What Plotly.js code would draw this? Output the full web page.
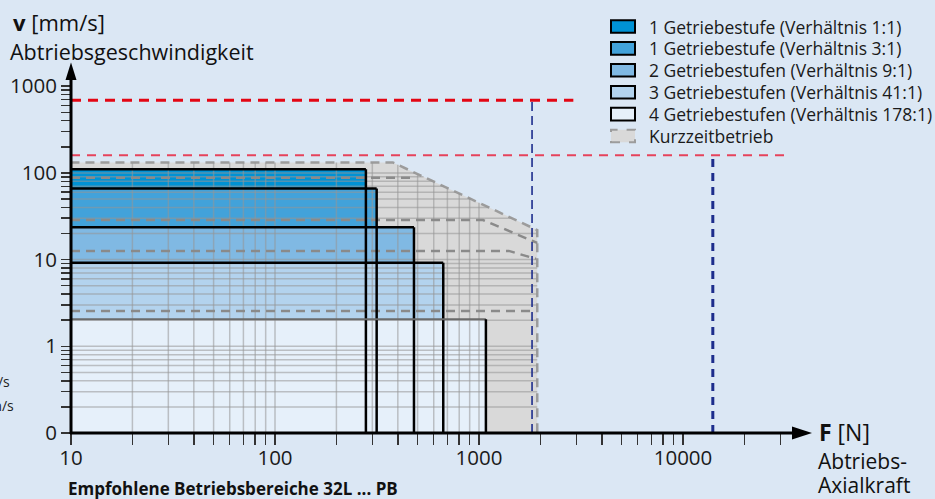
<!DOCTYPE html>
<html><head><meta charset="utf-8">
<script src="https://cdn.plot.ly/plotly-3.0.1.min.js"></script>
<style>html,body{margin:0;padding:0;background:#dbe7f4;}#chart{width:935px;height:499px;}</style>
</head><body><div id="chart"></div>
<script>
// ---------- data ----------
const stageLabels = ["1 Getriebestufe (Verhältnis 1:1)", "1 Getriebestufe (Verhältnis 3:1)", "2 Getriebestufen (Verhältnis 9:1)", "3 Getriebestufen (Verhältnis 41:1)", "4 Getriebestufen (Verhältnis 178:1)"];
const stageMaxForce = [279, 315, 480, 668, 1081];      // N
const stageMaxSpeed = [110, 66, 23.6, 9.2, 2.05];      // mm/s
const stageColors = ["#0092d4", "#42a2da", "#80b9e3", "#b3d3ee", "#e6f0fa"];
const shortTermLabel = "Kurzzeitbetrieb";
const shortTermForce = [10, 10, 378, 1930, 1930];
const shortTermSpeed = [0.1, 132, 132, 21.9, 0.1];
// short-term boundaries of the single stages
const st1Force = [10, 459];               const st1Speed = [88, 88];
const st2Force = [10, 1047, 1820, 1930];  const st2Speed = [28.6, 28.6, 16.5, 15.6];
const st3Force = [10, 1400, 1900];        const st3Speed = [12.6, 12.6, 10.2];
const st4Force = [10, 1900];              const st4Speed = [2.55, 2.55];
// limit lines
const limitSpeedHigh = 690,  limitSpeedHighEnd = 2900;
const limitSpeedLow = 160,   limitSpeedLowEnd = 33800;
const limitForceLow = 1820,  limitForceHigh = 14000;
// ticks
const xTickVals = [10,20,30,40,50,60,70,80,90,100,200,300,400,500,600,700,800,900,1000,2000,3000,4000,5000,6000,7000,8000,9000,10000,20000,30000];
const xMajor = [10,100,1000,10000];
const xMajorText = ["10","100","1000","10000"];
const yTickVals = [0.1,0.2,0.3,0.4,0.5,0.6,0.7,0.8,0.9,1,2,3,4,5,6,7,8,9,10,20,30,40,50,60,70,80,90,100,200,300,400,500,600,700,800,900,1000];
const yMajor = [0.1,1,10,100,1000];
const yMajorText = ["0","1","10","100","1000"];
const gridX = [20,30,40,50,60,70,80,90,100,200,300,400,500,600,700,800,900,1000];
const gridY = [0.2,0.3,0.4,0.5,0.6,0.7,0.8,0.9,1,2,3,4,5,6,7,8,9,10,20,30,40,50,60,70,80,90,100];

// ---------- helpers ----------
const PL=71, PR=812, PT=63, PB=433;
const px = x => (x-PL)/(PR-PL);
const py = y => (PB-y)/(PB-PT);
const lg = Math.log10;
const polyL = shortTermForce.map((f,i)=>[lg(f), lg(shortTermSpeed[i])]);
function hits(c, vertical){
  const out=[];
  for(let i=0;i<polyL.length;i++){
    const a=polyL[i], b=polyL[(i+1)%polyL.length];
    const ka=vertical?a[0]:a[1], kb=vertical?b[0]:b[1];
    if(ka===kb) continue;
    const t=(c-ka)/(kb-ka);
    if(t>=0&&t<=1){const oa=vertical?a[1]:a[0], ob=vertical?b[1]:b[0]; out.push(oa+t*(ob-oa));}
  }
  return out;
}
const bottomV = shortTermSpeed[0], leftF = shortTermForce[0];

const traces = [];
// short-term area
traces.push({x:shortTermForce, y:shortTermSpeed, mode:'lines', fill:'toself', fillcolor:'#d9d9d9',
  line:{color:'#9c9c9c', width:2.5, dash:'9px,6px'}, hoverinfo:'skip'});
// stage fills
stageMaxForce.forEach((f,i)=>{
  traces.push({x:[leftF,leftF,f,f], y:[bottomV,stageMaxSpeed[i],stageMaxSpeed[i],bottomV], mode:'lines',
    fill:'toself', fillcolor:stageColors[i], line:{width:0}, hoverinfo:'skip'});
});
// grid inside short-term area
const gx=[], gy=[];
gridX.forEach(v=>{const top=Math.max(...hits(lg(v),true)); gx.push(v,v,null); gy.push(bottomV,Math.pow(10,top),null);});
gridY.forEach(v=>{const r=Math.max(...hits(lg(v),false)); gx.push(leftF,Math.pow(10,r),null); gy.push(v,v,null);});
traces.push({x:gx, y:gy, mode:'lines', line:{color:'rgba(150,150,150,0.55)', width:1.5}, hoverinfo:'skip'});
// short-term stage lines
[[st1Force,st1Speed],[st2Force,st2Speed],[st3Force,st3Speed],[st4Force,st4Speed]].forEach(([f,s])=>{
  traces.push({x:f, y:s, mode:'lines', line:{color:'#8a8a8a', width:2.5, dash:'9px,6px'}, hoverinfo:'skip'});
});
// stage outlines
stageMaxForce.forEach((f,i)=>{
  const last = i===stageMaxForce.length-1;
  traces.push({x:[leftF,f], y:[stageMaxSpeed[i],stageMaxSpeed[i]], mode:'lines',
    line:{color:last?'#6a6a6a':'#000', width:last?2:2.5}, hoverinfo:'skip'});
  traces.push({x:[f,f], y:[stageMaxSpeed[i],bottomV], mode:'lines', line:{color:'#000', width:2.5}, hoverinfo:'skip'});
});
// limit lines
traces.push({x:[leftF,limitSpeedHighEnd], y:[limitSpeedHigh,limitSpeedHigh], mode:'lines', line:{color:'#e30613', width:3, dash:'10px,7px'}, hoverinfo:'skip'});
traces.push({x:[leftF,limitSpeedLowEnd], y:[limitSpeedLow,limitSpeedLow], mode:'lines', line:{color:'#e6435b', width:2, dash:'9px,7px'}, hoverinfo:'skip'});
traces.push({x:[limitForceLow,limitForceLow], y:[bottomV,limitSpeedHigh], mode:'lines', line:{color:'#1d2d8c', width:1.6, dash:'9px,5px'}, hoverinfo:'skip'});
traces.push({x:[limitForceHigh,limitForceHigh], y:[bottomV,limitSpeedLow], mode:'lines', line:{color:'#1d2d8c', width:3, dash:'8px,6px'}, hoverinfo:'skip'});

// ---------- layout ----------
const shapes = [
  {type:'line', xref:'paper', yref:'paper', x0:px(71), x1:px(71), y0:py(434), y1:py(78), line:{color:'#000', width:3}, layer:'above'},
  {type:'path', xref:'paper', yref:'paper', path:`M${px(65.5)},${py(80)} L${px(71)},${py(62.5)} L${px(76.5)},${py(80)} Z`, fillcolor:'#000', line:{width:0}, layer:'above'},
  {type:'line', xref:'paper', yref:'paper', x0:px(70), x1:px(794), y0:py(433), y1:py(433), line:{color:'#000', width:3}, layer:'above'},
  {type:'path', xref:'paper', yref:'paper', path:`M${px(792)},${py(426.5)} L${px(812)},${py(433)} L${px(792)},${py(439.5)} Z`, fillcolor:'#000', line:{width:0}, layer:'above'},
];
const annotations = [];
const legX0=611, legX1=635, legTextX=646.5;
const legRows = stageLabels.concat([shortTermLabel]);
legRows.forEach((lab,i)=>{
  const c = 26.5 + 21.9*i;
  const st = i<stageLabels.length;
  shapes.push({type:'rect', xref:'paper', yref:'paper', x0:px(legX0), x1:px(legX1), y0:py(c+6.3), y1:py(c-6.3),
    fillcolor: st?stageColors[i]:'#d9d9d9', line:{color: st?'#000':'#9c9c9c', width:2, dash: st?'solid':'dash'}});
  annotations.push({xref:'paper', yref:'paper', x:px(legTextX), y:py(c), xanchor:'left', yanchor:'middle', text:lab, showarrow:false, font:{size:17.5, color:'#1a1a1a'}});
});
annotations.push(
  {xref:'paper', yref:'paper', x:px(11), y:py(22), xanchor:'left', yanchor:'middle', text:'<b>v</b> [mm/s]', showarrow:false, font:{size:22, color:'#111'}},
  {xref:'paper', yref:'paper', x:px(8), y:py(51), xanchor:'left', yanchor:'middle', text:'Abtriebsgeschwindigkeit', showarrow:false, font:{size:21.5, color:'#111'}},
  {xref:'paper', yref:'paper', x:px(817), y:py(432), xanchor:'left', yanchor:'middle', text:'<b>F</b> [N]', showarrow:false, font:{size:23, color:'#111'}},
  {xref:'paper', yref:'paper', x:px(816), y:py(461), xanchor:'left', yanchor:'middle', text:'Abtriebs-', showarrow:false, font:{size:21, color:'#111'}},
  {xref:'paper', yref:'paper', x:px(816), y:py(485), xanchor:'left', yanchor:'middle', text:'Axialkraft', showarrow:false, font:{size:21, color:'#111'}},
  {xref:'paper', yref:'paper', x:px(66), y:py(488), xanchor:'left', yanchor:'middle', text:'<b>Empfohlene Betriebsbereiche 32L ... PB</b>', showarrow:false, font:{size:17, color:'#111'}},
  {xref:'paper', yref:'paper', x:px(12), y:py(381), xanchor:'right', yanchor:'middle', text:'mm/s', showarrow:false, font:{size:14, color:'#222'}},
  {xref:'paper', yref:'paper', x:px(16), y:py(405), xanchor:'right', yanchor:'middle', text:'mm/s', showarrow:false, font:{size:14, color:'#222'}}
);

const layout = {
  width:935, height:499,
  margin:{l:PL, r:935-PR, t:PT, b:499-PB, pad:0},
  paper_bgcolor:'#dbe7f4', plot_bgcolor:'rgba(0,0,0,0)',
  showlegend:false,
  font:{family:'Open Sans, sans-serif', color:'#1a1a1a'},
  xaxis:{type:'log', range:[1, 1+(PR-PL)/204], tickmode:'array', tickvals:xTickVals,
    ticktext:xTickVals.map(v=>{const k=xMajor.indexOf(v); return k>=0?xMajorText[k]:'';}),
    ticks:'outside', ticklen:11, tickwidth:1.5, tickcolor:'#333', showgrid:false, zeroline:false, showline:false,
    ticklabelstandoff:-5,
    tickfont:{size:20.5, color:'#1a1a1a'}, fixedrange:true},
  yaxis:{type:'log', range:[-1, -1+(PB-PT)/86.7], tickmode:'array', tickvals:yTickVals,
    ticktext:yTickVals.map(v=>{const k=yMajor.indexOf(v); return k>=0?yMajorText[k]:'';}),
    ticks:'outside', ticklen:9, tickwidth:1.5, tickcolor:'#333', showgrid:false, zeroline:false, showline:false,
    tickfont:{size:20.5, color:'#1a1a1a'}, fixedrange:true},
  shapes:shapes, annotations:annotations
};
Plotly.newPlot('chart', traces, layout, {staticPlot:true, displayModeBar:false});
</script></body></html>
